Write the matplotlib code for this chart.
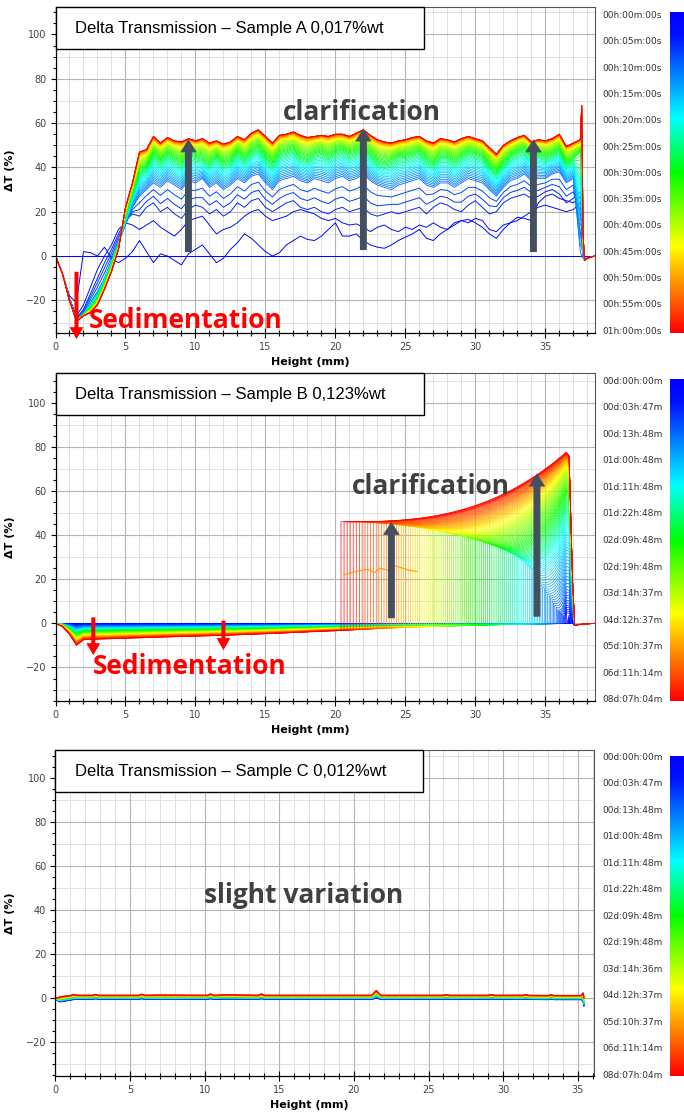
import numpy as np
import matplotlib
matplotlib.use('Agg')
import matplotlib.pyplot as plt
from matplotlib.colors import LinearSegmentedColormap
from matplotlib.ticker import MultipleLocator
from matplotlib.patches import Rectangle

# ---------------- Sample A (profiles read every 0.5 mm, plus the top-end spike) ----------------
A_x = list(np.arange(0, 37.51, 0.5)) + [37.6, 37.7, 37.8, 38.0, 38.5]
A_red = [0, -8, -20, -29.5, -27, -25.5, -22, -15, -7, 3,
         22, 33, 47, 48, 54, 51, 53.5, 52, 51.5, 53,
         52, 53, 51, 52, 50.5, 51.5, 54, 52.5, 55.5, 57,
         54, 51, 54.5, 55, 56, 54.5, 53.5, 54, 54.5, 54,
         55, 55, 54, 55.5, 57, 54.5, 52.5, 51.5, 51, 52,
         52.5, 53.5, 54, 52, 51, 53, 52.5, 51.5, 53, 54,
         53, 52, 49, 46, 50, 52, 53.5, 54.5, 51.5, 52.5,
         52, 53, 55, 49.5, 51, 52.5,
         68, 10, -2, -1, 0]
A_mid = [0, -8, -20, -29, -26.5, -23, -19, -12, -4, 5,
         18, 28, 38, 40, 46, 43, 46, 44, 42, 46,
         45, 44, 42, 45, 42, 43, 47, 44, 47, 49,
         45, 42, 46, 47, 48, 45, 44, 46, 47, 45,
         47, 48, 46, 47, 49, 46, 43, 42, 43, 45,
         45, 46, 47, 44, 42, 45, 45, 43, 45, 47,
         46, 45, 41, 38, 42, 45, 47, 48, 45, 46,
         45, 46, 48, 42, 44, 47,
         60, 5, -2, -1, 0]
A_low = [0, -8, -20, -29, -26, -21, -16, -10, -2, 6,
         14, 22, 27, 30, 33, 31, 34, 32, 30, 34,
         33, 35, 31, 33, 30, 32, 35, 33, 36, 37,
         33, 30, 34, 35, 36, 34, 33, 35, 34, 33,
         35, 36, 34, 35, 37, 34, 32, 31, 30, 32,
         33, 34, 35, 32, 31, 33, 33, 31, 33, 35,
         34, 33, 30, 27, 31, 34, 35, 37, 34, 35,
         35, 37, 38, 33, 35, 2,
         0, -1, -2, -1, 0]
A_blue1 = [0, -8, -18, -21, 2, 1.5, 0, 4, -1, -3,
           -1, 2, 7, 2, -3, 1, 0, -2, -4, 1,
           3, 5, 1, -3, -1, 3, 6, 10, 8, 5,
           2, 0, 1.5, 5, 7, 9, 7.5, 7, 9, 12,
           15, 9, 9, 10, 7, 5, 4, 3.5, 5, 7,
           8.5, 10, 12, 8, 7, 10, 12, 15, 16, 16.5,
           15, 13, 10, 8, 12, 15, 17.5, 17, 16, 24,
           27, 28, 26, 25, 24, 27,
           20, 0, -1, -1, 0]
A_blue2 = [0, -8, -19, -27, -22, -14, -6, 0, 5, 12,
           15, 14, 12, 14, 16, 13, 11, 9, 12, 16,
           17, 18, 14, 10, 12, 13, 15, 18, 20, 21,
           18, 16, 17, 18, 20, 21, 20, 19, 17, 16,
           17, 15, 14, 14.5, 13, 11, 13, 14, 12, 11,
           13, 12, 14, 13, 15, 13, 12, 14, 16, 15,
           17, 16, 12, 11, 14, 15, 16, 18, 20, 22,
           23, 22, 21, 20, 21, 24,
           15, 0, -1, -1, 0]
A_blue3 = [0, -8, -20, -28, -24, -17, -10, -3, 3, 10,
           16, 19, 18, 22, 24, 20, 22, 19, 17, 21,
           23, 22, 19, 21, 18, 20, 24, 22, 25, 26,
           22, 20, 22, 24, 25, 22, 21, 22, 20, 19,
           21, 22, 20, 21, 22, 19, 18, 19, 20, 19,
           20, 21, 22, 19, 22, 24, 23, 21, 20, 23,
           25, 22, 19, 20, 24, 26, 27, 28, 26, 27,
           29, 30, 28, 24, 26, 29,
           18, 0, -1.5, -1, 0]
A_time_labels = ['00h:00m:00s', '00h:05m:00s', '00h:10m:00s', '00h:15m:00s', '00h:20m:00s',
                 '00h:25m:00s', '00h:30m:00s', '00h:35m:00s', '00h:40m:00s', '00h:45m:00s',
                 '00h:50m:00s', '00h:55m:00s', '01h:00m:00s']

# ---------------- Sample B (key curves: front position, height at front, value at top) ----------------
B_sed_x = [0, 0.5, 1.0, 1.5, 2.0, 3.0, 5.0, 8.0, 12.0, 16.0, 19.5, 24.0, 28.0, 32.0, 36.8]
B_sed_red = [0, -1.5, -5, -10, -7.5, -7.2, -6.8, -6.2, -5.5, -4.5, -3.5, -2.5, -2, -1.5, -1]
B_key_t = [0, .05, .1, .15, .2, .25, .3, .35, .4, .45, .5, .55, .6, .65, .7, .75, .8, .85, .9, .95, 1.0]
B_front = [36.8, 36.6, 36.3, 35.9, 35.3, 34.6, 33.9, 33.1, 32.3, 31.4, 30.5,
           29.6, 28.7, 27.8, 26.9, 26.0, 25.0, 24.0, 22.9, 21.7, 20.4]
B_front_h = [0, 1.5, 3, 6, 12, 18, 25, 30, 33, 35.5, 37.5,
             39, 40.5, 41.5, 42.5, 43.5, 44.2, 45, 45.5, 46, 46]
B_top = [0, 3, 8, 15, 24, 33, 40, 46, 51, 55, 59,
         62, 65, 68, 70, 72, 73.5, 75, 76, 77, 77.5]
B_dip = [0, 0, 0.1, 0.2, 0.3, 0.35, 0.4, 0.45, 0.5, 0.5, 0.5,
         0.45, 0.4, 0.35, 0.3, 0.2, 0.15, 0.1, 0.05, 0, 0]
B_glitch_x = [20.6, 21.5, 22.3, 22.8, 23.2, 23.8, 24.3, 24.8, 25.3, 25.8]
B_glitch_y = [22, 23.5, 24.5, 23, 25, 24, 26, 25, 24, 23.5]
B_time_labels = ['00d:00h:00m', '00d:03h:47m', '00d:13h:48m', '01d:00h:48m', '01d:11h:48m',
                 '01d:22h:48m', '02d:09h:48m', '02d:19h:48m', '03d:14h:37m', '04d:12h:37m',
                 '05d:10h:37m', '06d:11h:14m', '08d:07h:04m']

# ---------------- Sample C ----------------
C_x = [0, 0.3, 0.6, 1.0, 1.2, 1.5, 2.5, 2.7, 2.9, 5.6, 5.8, 6.0, 7.0, 10.2, 10.4, 10.6, 11.4,
       13.6, 13.8, 14.0, 21.2, 21.5, 21.8, 26.0, 26.2, 26.4, 29.0, 29.2, 29.4,
       31.3, 31.5, 31.7, 33.0, 33.2, 33.4, 35.2, 35.35, 35.4]
C_red = [0, 0.6, 1.0, 1.2, 1.8, 1.4, 1.4, 1.8, 1.4, 1.4, 1.9, 1.4, 1.5, 1.4, 2.0, 1.4, 1.6,
         1.4, 2.0, 1.4, 1.4, 3.6, 1.4, 1.4, 1.7, 1.4, 1.4, 1.7, 1.4,
         1.4, 1.7, 1.4, 1.3, 1.6, 1.3, 1.3, 2.5, 0.5]
C_blue = [-0.5, -1.6, -1.3, -0.8, -0.6, -0.4, -0.4, -0.2, -0.4, -0.4, -0.2, -0.4, -0.5, -0.4, -0.2, -0.4, -0.3,
          -0.4, -0.2, -0.4, -0.4, 0.0, -0.4, -0.4, -0.3, -0.4, -0.4, -0.3, -0.4,
          -0.5, -0.3, -0.5, -0.6, -0.4, -0.6, -0.6, -1.0, -3.5]
C_time_labels = ['00d:00h:00m', '00d:03h:47m', '00d:13h:48m', '01d:00h:48m', '01d:11h:48m',
                 '01d:22h:48m', '02d:09h:48m', '02d:19h:48m', '03d:14h:36m', '04d:12h:37m',
                 '05d:10h:37m', '06d:11h:14m', '08d:07h:04m']

rainbow = LinearSegmentedColormap.from_list(
    'rb', [(0, '#0000ff'), (0.07, '#0010ff'), (0.33, '#00ffff'), (0.5, '#00ff00'),
           (0.73, '#ffff00'), (1.0, '#ff0000')])

W, H = 684, 1117
fig = plt.figure(figsize=(W / 100, H / 100), dpi=100)


def px_rect(x0, y0, x1, y1):
    return [x0 / W, 1 - y1 / H, (x1 - x0) / W, (y1 - y0) / H]


def setup(rect, xmax, ylim, title):
    ax = fig.add_axes(rect)
    ax.set_xlim(0, xmax)
    ax.set_ylim(*ylim)
    ax.xaxis.set_major_locator(MultipleLocator(5))
    ax.xaxis.set_minor_locator(MultipleLocator(1))
    ax.yaxis.set_major_locator(MultipleLocator(20))
    ax.yaxis.set_minor_locator(MultipleLocator(5))
    ax.set_axisbelow(True)
    ax.grid(which='major', color='#b4b4b4', lw=0.8)
    ax.xaxis.grid(True, which='minor', color='#e0e0e0', lw=0.7)
    for yv in range(-30, 111, 20):
        ax.axhline(yv, color='#e0e0e0', lw=0.7, zorder=0.5)
    ax.tick_params(axis='x', which='major', direction='inout', length=7, width=0.8,
                   labelsize=7, labelcolor='#444444', pad=3)
    ax.tick_params(axis='x', which='minor', direction='inout', length=5, width=0.8)
    ax.tick_params(axis='y', which='major', direction='out', length=3.5, width=0.8,
                   labelsize=7, labelcolor='#444444', pad=3)
    ax.tick_params(axis='y', which='minor', direction='out', length=2, width=0.8)
    for s in ['top', 'right']:
        ax.spines[s].set_color('#555555')
        ax.spines[s].set_linewidth(0.8)
    for s in ['left', 'bottom']:
        ax.spines[s].set_linewidth(0.9)
    ax.set_xlabel('Height (mm)', fontsize=8, fontweight='bold')
    ax.xaxis.set_label_coords(0.472, -0.074)
    ax.set_ylabel('ΔT (%)', fontsize=8, fontweight='bold')
    ax.yaxis.set_label_coords(-0.075, 0.5)
    ax.add_patch(Rectangle((0, 0.871), 0.683, 0.129, transform=ax.transAxes,
                           fc='white', ec='black', lw=1, zorder=6, clip_on=False))
    ax.text(0.036, 0.935, title, transform=ax.transAxes, fontsize=12,
            family='Liberation Sans', va='center', ha='left', zorder=7)
    return ax


def arrow(ax, x, y0, y1, color, tail_w, head_w, head_l):
    ax.annotate('', xy=(x, y1), xytext=(x, y0), annotation_clip=False, zorder=8,
                arrowprops=dict(arrowstyle=f'simple,head_length={head_l},head_width={head_w},tail_width={tail_w}',
                                color=color, lw=0, shrinkA=0, shrinkB=0, mutation_scale=1))


def colorbar(y0, y1, labels, ly0, ly1):
    cax = fig.add_axes(px_rect(670, y0, 684, y1))
    cax.imshow(np.linspace(0, 1, 256)[:, None], aspect='auto', cmap=rainbow)
    cax.axis('off')
    for lab, ly in zip(labels, np.linspace(ly0, ly1, len(labels))):
        fig.text(602 / W, 1 - ly / H, lab, fontsize=6.5, color='#333333', va='center', ha='left')


gray = '#44505f'
big = dict(fontsize=19, fontweight='bold', family='Open Sans', ha='center', va='center', zorder=9)

# ---------------- Panel A ----------------
axA = setup(px_rect(55.5, 7, 595, 332.7), 38.55, (-34.6, 112.4),
            'Delta Transmission – Sample A 0,017%wt')
xa = np.array(A_x)
red, mid, low = np.array(A_red), np.array(A_mid), np.array(A_low)
b3 = np.array(A_blue3)
blue_curves = [np.zeros_like(xa), np.array(A_blue1), np.array(A_blue2), b3,
               b3 + (low - b3) / 3, b3 + 2 * (low - b3) / 3]
blue_t = [0.0, 0.03, 0.06, 0.09, 0.12, 0.14]
for yc, t in zip(blue_curves, blue_t):
    axA.plot(xa, yc, color=rainbow(t), lw=0.7)
n_band = 50
for s, t in zip(np.linspace(0, 1, n_band), np.linspace(0.17, 1.0, n_band)):
    w = 1 - (1 - s) ** 2.0
    if w < 0.6:
        yc = low + (w / 0.6) * (mid - low)
    else:
        yc = mid + ((w - 0.6) / 0.4) * (red - mid)
    axA.plot(xa, yc, color=rainbow(t), lw=0.6)
axA.text(21.9, 64.6, 'clarification', color='#404040', **big)
axA.text(9.27, -28.9, 'Sedimentation', color='#ff0000', **big)
for xv, y0, y1 in [(9.5, 1.8, 52.7), (22.0, 2.7, 57.6), (34.15, 1.8, 52.7)]:
    arrow(axA, xv, y0, y1, gray, 5, 12, 9.4)
arrow(axA, 1.5, -7.1, -37.5, '#ff0000', 2.9, 10, 8.6)
colorbar(12, 333, A_time_labels, 15.7, 331)

# ---------------- Panel B ----------------
axB = setup(px_rect(55.5, 373, 595, 700.7), 38.55, (-35.05, 113.4),
            'Delta Transmission – Sample B 0,123%wt')
nB = 120
tB = np.linspace(0, 1, nB)
fB = np.interp(tB, B_key_t, B_front)
hB = np.interp(tB, B_key_t, B_front_h)
TB = np.interp(tB, B_key_t, B_top)
cB = np.interp(tB, B_key_t, B_dip)
r = np.linspace(0, 1, 40)
for f, h, T, c, t in zip(fB, hB, TB, cB, tB):
    sx = [xv for xv in B_sed_x if xv < f] + [f]
    sy = np.interp(sx, B_sed_x, B_sed_red) * t
    if f < 36.5:
        cx = f + r * (36.5 - f)
        cy = h + (T - h) * r ** 2.8 - c * h * r * (1 - r)
    else:
        cx, cy = np.array([f]), np.array([0.0])
    xs = np.r_[sx, cx, 36.7, 36.95, 37.1, 37.4, 38.55]
    ys = np.r_[sy, cy, T * 0.98, T * 0.25, -1.0, -0.5, 0]
    axB.plot(xs, ys, color=rainbow(t), lw=0.5)
axB.plot(B_glitch_x, B_glitch_y, color='#ff9a00', lw=0.8)
axB.text(26.8, 61.9, 'clarification', color='#404040', **big)
axB.text(9.59, -19.7, 'Sedimentation', color='#ff0000', **big)
arrow(axB, 24.0, 2.3, 46.0, gray, 5, 12, 9.4)
arrow(axB, 34.4, 3.0, 67.9, gray, 5, 12, 9.4)
arrow(axB, 2.7, 2.7, -14.4, '#ff0000', 2.9, 10, 8.6)
arrow(axB, 12.0, 1.2, -12.1, '#ff0000', 2.9, 10, 8.6)
colorbar(379, 700.7, B_time_labels, 381, 700)

# ---------------- Panel C ----------------
axC = setup(px_rect(55.3, 750, 594.3, 1075.7), 36.1, (-35.1, 112.6),
            'Delta Transmission – Sample C 0,012%wt')
cr, cb = np.array(C_red), np.array(C_blue)
for t in np.linspace(0, 1, 30):
    axC.plot(C_x, cb + t * (cr - cb), color=rainbow(t), lw=0.8)
axC.text(16.6, 46.8, 'slight variation', color='#404040', **big)
colorbar(755.7, 1076, C_time_labels, 757.3, 1075)

fig.savefig('out.png', dpi=100)
